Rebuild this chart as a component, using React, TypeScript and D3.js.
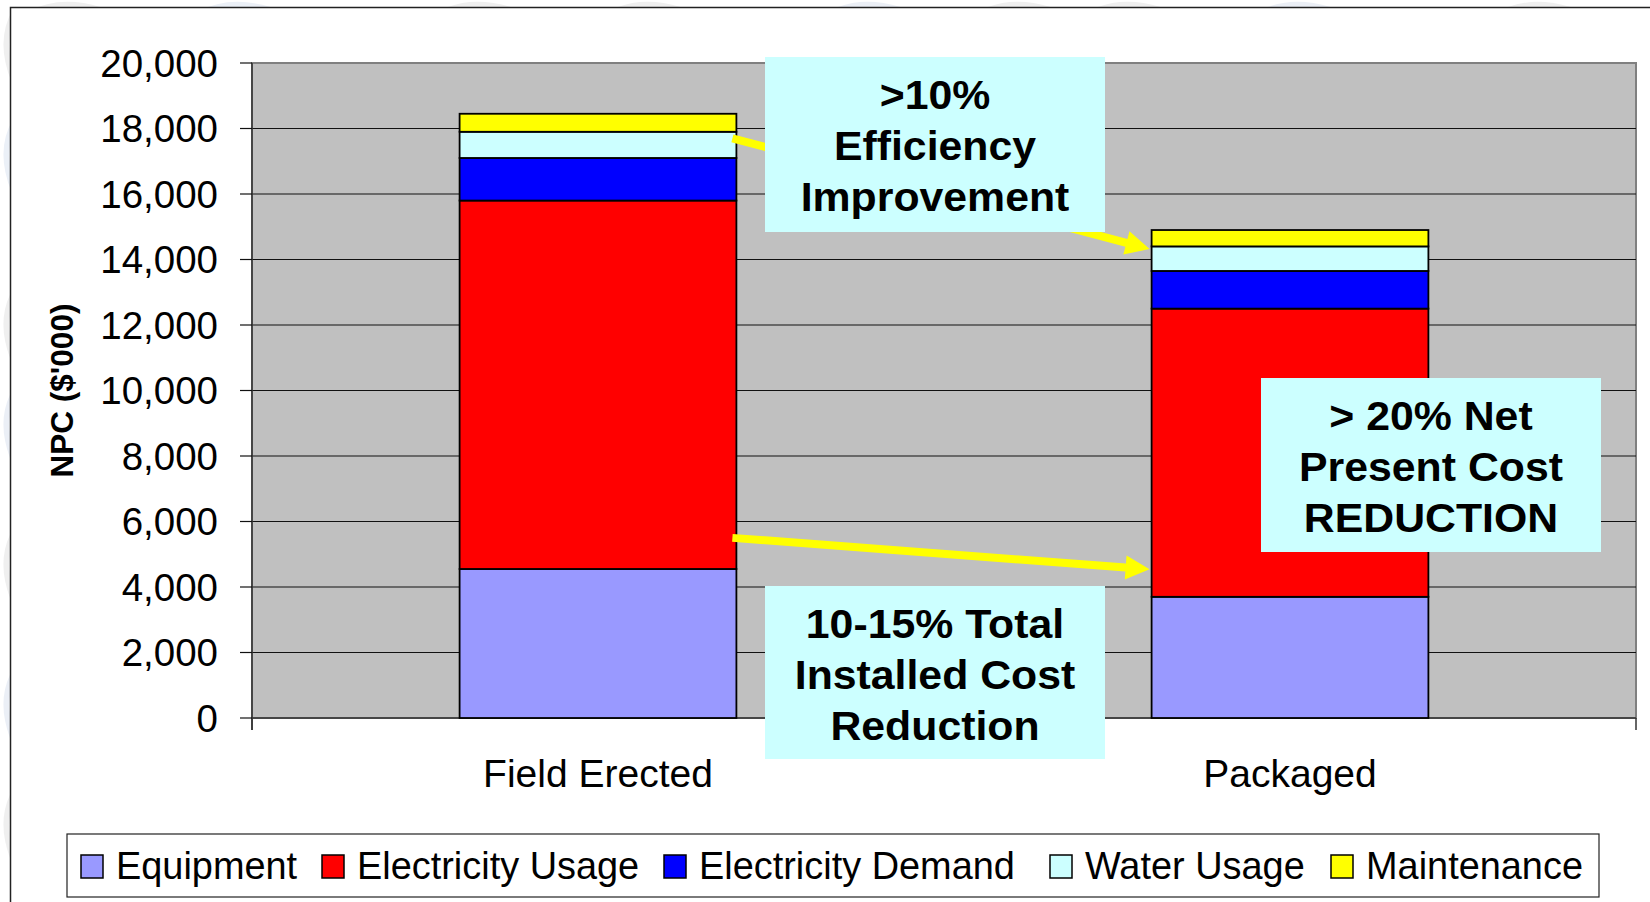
import React from "react";
import * as d3 from "d3";

const categories = ["Field Erected", "Packaged"];
const seriesNames = ["Equipment", "Electricity Usage", "Electricity Demand", "Water Usage", "Maintenance"];
const seriesColors = ["#9999FF", "#FF0000", "#0000FF", "#CCFFFF", "#FFFF00"];
const equipment = [4550, 3700];
const electricityUsage = [11250, 8800];
const electricityDemand = [1300, 1150];
const waterUsage = [800, 750];
const maintenance = [550, 500];
const yTicks = [0, 2000, 4000, 6000, 8000, 10000, 12000, 14000, 16000, 18000, 20000];

// arrows from "Field Erected" at arrowFrom value to "Packaged" at arrowTo value
const arrowFrom = [17700, 5500];
const arrowTo = [14320, 4540];

const boxTexts = [
  [">10%", "Efficiency", "Improvement"],
  ["> 20% Net", "Present Cost", "REDUCTION"],
  ["10-15% Total", "Installed Cost", "Reduction"],
];

const W = 1650;
const H = 902;
const FONT = "'Liberation Sans', Arial, Helvetica, sans-serif";

const plot = { left: 252, right: 1636, top: 63, bottom: 718 };

function arrowPath(x1: number, y1: number, x2: number, y2: number, shaft: number, headL: number, headW: number) {
  const dx = x2 - x1, dy = y2 - y1;
  const len = Math.hypot(dx, dy);
  const ux = dx / len, uy = dy / len;
  const nx = -uy, ny = ux;
  const bx = x2 - ux * headL, by = y2 - uy * headL;
  const pts = [
    [x1 + nx * shaft / 2, y1 + ny * shaft / 2],
    [bx + nx * shaft / 2, by + ny * shaft / 2],
    [bx + nx * headW / 2, by + ny * headW / 2],
    [x2, y2],
    [bx - nx * headW / 2, by - ny * headW / 2],
    [bx - nx * shaft / 2, by - ny * shaft / 2],
    [x1 - nx * shaft / 2, y1 - ny * shaft / 2],
  ];
  return d3.line()(pts as [number, number][]) + "Z";
}

export default function App() {
  const x = d3.scaleBand<string>().domain(categories).range([plot.left, plot.right]).paddingInner(0.6).paddingOuter(0.3);
  const y = d3.scaleLinear().domain([0, 20000]).range([plot.bottom, plot.top]);
  const series = [equipment, electricityUsage, electricityDemand, waterUsage, maintenance];
  const rows = categories.map((c, i) => {
    const r: any = { category: c };
    seriesNames.forEach((s, j) => (r[s] = series[j][i]));
    return r;
  });
  const stacked = d3.stack().keys(seriesNames)(rows);
  const fmt = d3.format(",");
  const bw = x.bandwidth();

  const boxes = [
    { x: 765, y: 57, w: 340, h: 175 },
    { x: 1261, y: 378, w: 340, h: 174 },
    { x: 765, y: 586, w: 340, h: 173 },
  ];
  const step = x.step();

  return (
    <div>
      <style>{`body{margin:0;}`}</style>
      <svg width={W} height={H} style={{ display: "block" }}>
        <defs>
          <clipPath id="margin">
            <rect x={0} y={0} width={W} height={7} />
            <rect x={0} y={0} width={10} height={H} />
          </clipPath>
        </defs>
        <rect x={0} y={0} width={W} height={H} fill="#fff" />
        {/* faint slide background watermark */}
        <g clipPath="url(#margin)" fill="none" strokeLinecap="round" opacity={0.55}>
          {[60, 230, 470, 640, 860, 1010, 1120, 1290, 1530].map((cx, i) => (
            <path key={"t" + i} d={`M${cx - 30},14 Q${cx},-2 ${cx + 40},10`} stroke={i % 3 === 1 ? "#dbe3f0" : "#e2e2e2"} strokeWidth={6} />
          ))}
          {[40, 150, 320, 420, 560, 700, 820].map((cy, i) => (
            <path key={"l" + i} d={`M16,${cy - 30} Q-2,${cy} 14,${cy + 40}`} stroke={i % 2 ? "#dbe3f0" : "#e2e2e2"} strokeWidth={6} />
          ))}
        </g>
        {/* outer frame */}
        <path d={`M10.5,${H} L10.5,7.5 L${W},7.5`} fill="none" stroke="#222" strokeWidth={1.5} />

        {/* plot area */}
        <rect x={plot.left} y={plot.top} width={plot.right - plot.left} height={plot.bottom - plot.top} fill="#C0C0C0" stroke="#808080" strokeWidth={2} />
        {yTicks.filter((t) => t > 0 && t < 20000).map((t) => (
          <line key={t} x1={plot.left} x2={plot.right} y1={y(t)} y2={y(t)} stroke="#111" strokeWidth={1.2} />
        ))}
        {/* axes */}
        <line x1={plot.left} x2={plot.left} y1={plot.top} y2={plot.bottom + 12} stroke="#333" strokeWidth={1.5} />
        <line x1={plot.left} x2={plot.right} y1={plot.bottom} y2={plot.bottom} stroke="#333" strokeWidth={1.5} />
        {[0, 1, 2].map((k) => (
          <line key={"ct" + k} x1={plot.left + k * step} x2={plot.left + k * step} y1={plot.bottom} y2={plot.bottom + 12} stroke="#333" strokeWidth={1.5} />
        ))}
        {yTicks.map((t) => (
          <g key={"yt" + t}>
            <line x1={plot.left - 12} x2={plot.left} y1={y(t)} y2={y(t)} stroke="#111" strokeWidth={1.2} />
            <text x={218} y={y(t)} dy="0.36em" textAnchor="end" fontFamily={FONT} fontSize={38.5} fill="#000">
              {fmt(t)}
            </text>
          </g>
        ))}
        <text transform={`translate(73,${(plot.top + plot.bottom) / 2}) rotate(-90)`} textAnchor="middle" fontFamily={FONT} fontWeight="bold" fontSize={31.5} fill="#000">
          NPC ($'000)
        </text>
        {categories.map((c) => (
          <text key={c} x={(x(c) as number) + bw / 2} y={787} textAnchor="middle" fontFamily={FONT} fontSize={39} fill="#000">
            {c}
          </text>
        ))}

        {/* bars */}
        {stacked.map((s, j) => (
          <g key={s.key}>
            {s.map((d, i) => (
              <rect key={i} x={x(categories[i]) as number} y={y(d[1])} width={bw} height={y(d[0]) - y(d[1])} fill={seriesColors[j]} stroke="#000" strokeWidth={1.8} />
            ))}
          </g>
        ))}

        {/* arrows */}
        {arrowFrom.map((v, i) => (
          <path
            key={"ar" + i}
            d={arrowPath((x(categories[0]) as number) + bw - 4, y(v), (x(categories[1]) as number) - 2, y(arrowTo[i]), 8, 24, 24)}
            fill="#FFFF00"
          />
        ))}

        {/* annotation boxes */}
        {boxes.map((b, i) => (
          <g key={"bx" + i}>
            <rect x={b.x} y={b.y} width={b.w} height={b.h} fill="#CCFFFF" />
            {boxTexts[i].map((t, k) => (
              <text
                key={k}
                transform={`translate(${b.x + b.w / 2},${b.y + 52 + k * 51}) scale(1.07,1)`}
                textAnchor="middle"
                fontFamily={FONT}
                fontWeight="bold"
                fontSize={40}
                fill="#000"
              >
                {t}
              </text>
            ))}
          </g>
        ))}

        {/* legend */}
        <rect x={67} y={834} width={1532} height={63} fill="#fff" stroke="#222" strokeWidth={1.2} />
        {seriesNames.map((s, j) => {
          const sx = [81, 322, 664, 1050, 1331][j];
          return (
            <g key={"lg" + s}>
              <rect x={sx} y={855} width={22} height={23} fill={seriesColors[j]} stroke="#000" strokeWidth={1.5} />
              <text x={sx + 35} y={879} fontFamily={FONT} fontSize={37.9} fill="#000">
                {s}
              </text>
            </g>
          );
        })}
      </svg>
    </div>
  );
}
